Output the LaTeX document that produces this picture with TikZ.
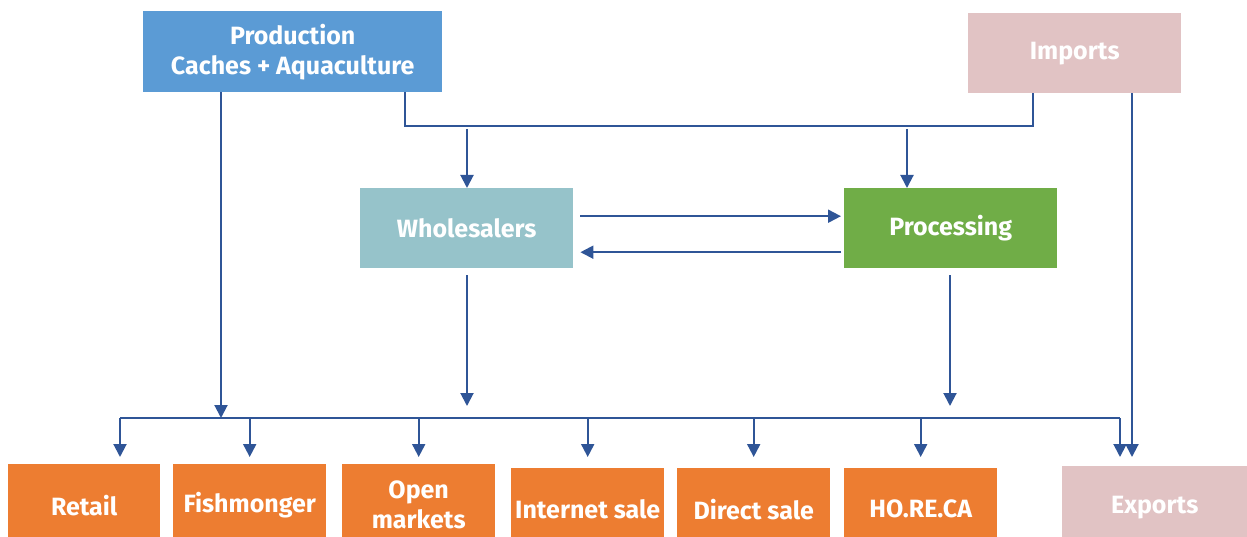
\documentclass[tikz,border=0pt]{standalone}
\usepackage{fontspec}
\setmainfont{Fira Sans}
\usetikzlibrary{arrows.meta}
\definecolor{lineblue}{HTML}{2F5597}
\definecolor{prodblue}{HTML}{5B9BD5}
\definecolor{pinkbox}{HTML}{E1C3C4}
\definecolor{tealbox}{HTML}{96C3CA}
\definecolor{greenbox}{HTML}{70AD47}
\definecolor{orangebox}{HTML}{ED7D31}
\begin{document}
\begin{tikzpicture}[x=1pt,y=-1pt,
  box/.style={anchor=north west, inner sep=0pt, text=white, align=center,
    font=\fontsize{25}{30}\selectfont\bfseries},
  conn/.style={draw=lineblue, line width=2pt},
  arr/.style={conn, -{Triangle[length=13pt,width=13pt]}}]
\useasboundingbox (0,0) rectangle (1247,537);
% top boxes
\node[box, fill=prodblue, minimum width=299pt, minimum height=81pt] (prod) at (143,11) {Production\\Caches + Aquaculture};
\node[box, fill=pinkbox, minimum width=213pt, minimum height=80pt] (imp) at (968,13) {Imports};
% middle boxes
\node[box, fill=tealbox, minimum width=213pt, minimum height=80pt] (whole) at (360,188) {Wholesalers};
\node[box, fill=greenbox, minimum width=213pt, minimum height=80pt] (proc) at (844,188) {Processing};
% bottom boxes
\node[box, fill=orangebox, minimum width=152pt, minimum height=82pt] (retail) at (8,464) {Retail};
\node[box, fill=orangebox, minimum width=153pt, minimum height=82pt] (fish) at (173,464) {Fishmonger};
\node[box, fill=orangebox, minimum width=153pt, minimum height=82pt] (open) at (342,464) {Open\\markets};
\node[box, fill=orangebox, minimum width=153pt, minimum height=82pt] (inet) at (511,468) {Internet sale};
\node[box, fill=orangebox, minimum width=153pt, minimum height=82pt] (direct) at (677,468) {Direct sale};
\node[box, fill=orangebox, minimum width=153pt, minimum height=82pt] (horeca) at (844,468) {HO.RE.CA};
\node[box, fill=pinkbox, minimum width=185pt, minimum height=82pt] (exp) at (1062,466) {Exports};
% coordinates
\coordinate (tl) at (405,126);
\coordinate (tr) at (1033,126);
\coordinate (wIn) at (467,129);
\coordinate (pIn) at (907,129);
\coordinate (busL) at (120,418);
\coordinate (busR) at (1120,418);
\coordinate (busP) at (221,418);
\coordinate (wOut) at (467,406);
\coordinate (pOut) at (950,406);
\coordinate (impX) at (1132,93);
% top connector
\draw[conn] (prod.south -| tl) -- (tl) -- (tr) -- (imp.south -| tr);
\draw[arr] (wIn) -- (wIn |- whole.north);
\draw[arr] (pIn) -- (pIn |- proc.north);
% between wholesalers and processing
\draw[arr] ([shift={(7pt,12pt)}]whole.east) -- ([shift={(-3pt,12pt)}]proc.west);
\draw[arr] ([shift={(-3pt,-24pt)}]proc.west) -- ([shift={(7pt,-24pt)}]whole.east);
% downward
\draw[arr] (prod.south -| busP) -- (busP);
\draw[arr] ([yshift=-7pt]whole.south -| wOut) -- (wOut);
\draw[arr] ([yshift=-7pt]proc.south -| pOut) -- (pOut);
% bus
\draw[conn] (busL) -- (busR);
\draw[arr, shorten >=7pt] (busL) -- (busL |- retail.north);
\draw[arr, shorten >=7pt] (busL -| fish.north) -- (fish.north);
\draw[arr, shorten >=7pt] (busL -| open.north) -- (open.north);
\draw[arr, shorten >=11pt] (busL -| inet.north) -- (inet.north);
\draw[arr, shorten >=11pt] (busL -| direct.north) -- (direct.north);
\draw[arr, shorten >=11pt] (busL -| horeca.north) -- (horeca.north);
\draw[arr, shorten >=9pt] (busR) -- (busR |- exp.north);
\draw[arr, shorten >=9pt] (impX) -- (impX |- exp.north);
\end{tikzpicture}
\end{document}
